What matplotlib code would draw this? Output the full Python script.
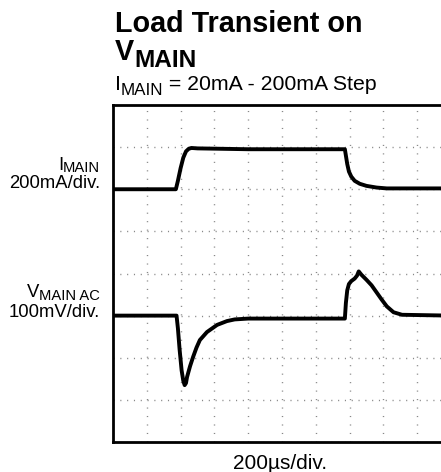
import matplotlib.pyplot as plt
import numpy as np

plt.rcParams['font.family'] = ['Liberation Sans', 'DejaVu Sans']

# --------------------------------------------------------------
# Data (screen divisions: x 0..10, y 0..8)
# --------------------------------------------------------------
i_x = [0, 1.86, 1.92, 2.0, 2.08, 2.16, 2.24, 2.32, 2.5, 4.0, 6.86, 6.89, 6.93, 6.98, 7.05,
       7.15, 7.3, 7.5, 7.8, 8.1, 10]
i_y = [6.0, 6.0, 6.2, 6.5, 6.75, 6.9, 6.96, 6.98, 6.97, 6.95, 6.95, 6.8, 6.6, 6.42, 6.3,
       6.2, 6.13, 6.08, 6.04, 6.02, 6.02]

v_x = [0, 1.88, 1.92, 1.97, 2.03, 2.08, 2.12, 2.16, 2.19, 2.28, 2.37, 2.47, 2.57, 2.78,
       3.08, 3.37, 3.6, 4.0, 6.86, 6.89, 6.93, 6.98, 7.05, 7.15, 7.22, 7.27, 7.35, 7.5,
       7.65, 7.8, 7.95, 8.1, 8.3, 8.55, 10]
v_y = [3.0, 3.0, 2.7, 2.2, 1.7, 1.45, 1.35, 1.4, 1.54, 1.8, 2.02, 2.24, 2.42, 2.61,
       2.78, 2.87, 2.91, 2.93, 2.93, 3.3, 3.6, 3.75, 3.82, 3.88, 3.95, 4.05, 3.97, 3.85,
       3.72, 3.55, 3.38, 3.22, 3.08, 3.02, 3.0]

n_xdiv = 10
n_ydiv = 8

W, H = 441, 472

# --------------------------------------------------------------
# Figure
# --------------------------------------------------------------
fig = plt.figure(figsize=(W / 100, H / 100), dpi=100)
ax = fig.add_axes([113 / W, 30 / H, 338 / W, 337 / H])
ax.set_xlim(0, n_xdiv)
ax.set_ylim(0, n_ydiv)

# dotted oscilloscope grid
ax.set_xticks(np.arange(0, n_xdiv + 1))
ax.set_yticks(np.arange(0, n_ydiv + 1))
ax.xaxis.grid(True, color='#888888', lw=1.0, linestyle=(0, (0.8, 5.3)))
ax.yaxis.grid(True, color='#888888', lw=1.0, linestyle=(0, (0.8, 4.1)))
ax.tick_params(length=0, labelbottom=False, labelleft=False)
for s in ['left', 'top', 'bottom']:
    ax.spines[s].set_linewidth(2)
ax.spines['right'].set_visible(False)

ax.plot(i_x, i_y, color='black', lw=2.8, solid_joinstyle='round')
ax.plot(v_x, v_y, color='black', lw=2.8, solid_joinstyle='round')

# --------------------------------------------------------------
# Text (with hand-placed subscripts)
# --------------------------------------------------------------
renderer = fig.canvas.get_renderer()


def sub_label(x, y, main, sub, size, ratio=0.8, drop=3, ha='left', weight='normal', rest=''):
    # x, y in pixels from top-left, y = baseline of main text
    parts = [(main, size, 0), (sub, size * ratio, drop), (rest, size, 0)]
    texts = []
    widths = []
    for s, fs, dy in parts:
        t = fig.text(0, 0, s, fontsize=fs, fontweight=weight, va='baseline', ha='left')
        texts.append((t, dy))
        widths.append(t.get_window_extent(renderer).width if s else 0)
    start = x if ha == 'left' else x - sum(widths)
    for (t, dy), w in zip(texts, widths):
        t.set_position((start / W, 1 - (y + dy) / H))
        start += w


fig.text(115 / W, 1 - 32 / H, 'Load Transient on', fontsize=20.7, fontweight='bold', va='baseline')
sub_label(115, 60, 'V', 'MAIN', 20.7, ratio=0.85, drop=7, weight='bold')
sub_label(115, 90, 'I', 'MAIN', 15.3, ratio=0.8, drop=5, rest=' = 20mA - 200mA Step')

sub_label(100, 170, 'I', 'MAIN', 13.3, ratio=0.8, drop=2, ha='right')
fig.text(100 / W, 1 - 188 / H, '200mA/div.', fontsize=13.3, ha='right', va='baseline')
sub_label(100, 297, 'V', 'MAIN AC', 13.3, ratio=0.8, drop=3, ha='right')
fig.text(100 / W, 1 - 317 / H, '100mV/div.', fontsize=13.3, ha='right', va='baseline')

fig.text(280 / W, 1 - 469 / H, '200\u00b5s/div.', fontsize=15, ha='center', va='baseline')

plt.savefig('out.png', dpi=100)
